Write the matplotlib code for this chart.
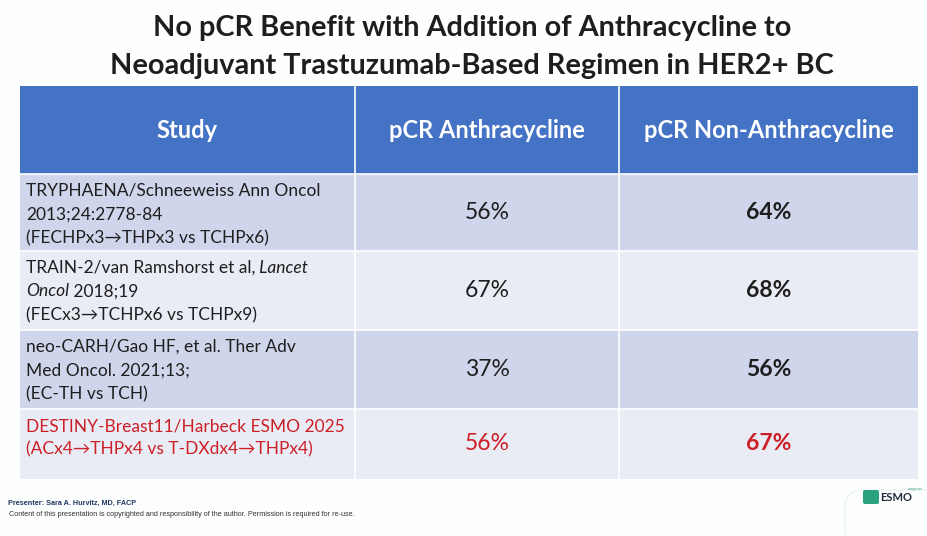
import matplotlib
matplotlib.use("Agg")
import matplotlib.pyplot as plt
from matplotlib.patches import Rectangle, FancyBboxPatch

plt.rcParams['font.family'] = ['Lato', 'DejaVu Sans']

# ---- data ----
title_lines = ["No pCR Benefit with Addition of Anthracycline to",
               "Neoadjuvant Trastuzumab-Based Regimen in HER2+ BC"]
headers = ["Study", "pCR Anthracycline", "pCR Non-Anthracycline"]
# each line is a list of segments; segments wrapped in * are italic
studies = [
    [["TRYPHAENA/Schneeweiss Ann Oncol"], ["2013;24:2778-84"],
     ["(FECHPx3\u2192THPx3 vs TCHPx6)"]],
    [["TRAIN-2/van Ramshorst et al,", "* Lancet*"], ["*Oncol*", " 2018;19"],
     ["(FECx3\u2192TCHPx6 vs TCHPx9)"]],
    [["neo-CARH/Gao HF, et al. Ther Adv"], ["Med Oncol. 2021;13;"],
     ["(EC-TH vs TCH)"]],
    [["DESTINY-Breast11/Harbeck ESMO 2025"],
     ["(ACx4\u2192THPx4 vs T-DXdx4\u2192THPx4)"]],
]
pcr_anthra = [56, 67, 37, 56]
pcr_non_anthra = [64, 68, 56, 67]
highlight = [False, False, False, True]
presenter = "Presenter: Sara A. Hurvitz, MD, FACP"
disclaimer = ("Content of this presentation is copyrighted and responsibility "
              "of the author. Permission is required for re-use.")

# ---- layout ----
W, H = 928, 536
col_x = [20, 355, 619, 918]
row_y = [86, 174, 251, 330, 409, 479]
HEAD = "#4472C4"
ROW_A, ROW_B = "#CFD5EA", "#E9EBF5"
RED = "#CC1F26"
DARK = "#1E1E1E"

fig = plt.figure(figsize=(W / 100, H / 100), dpi=100)
fig.patch.set_facecolor("#FDFEFE")
ax = fig.add_axes([0, 0, 1, 1])
ax.set_xlim(0, W)
ax.set_ylim(H, 0)
ax.axis("off")
renderer = fig.canvas.get_renderer()

for i, line in enumerate(title_lines):
    ax.text(472, 28 + i * 38, line, ha="center", va="center",
            fontsize=20.8, fontweight="bold", color=DARK)

# header
ax.add_patch(Rectangle((col_x[0], row_y[0]), col_x[-1] - col_x[0],
                       row_y[1] - row_y[0], color=HEAD, lw=0))
for j, h in enumerate(headers):
    ax.text((col_x[j] + col_x[j + 1]) / 2, 131, h, ha="center", va="center",
            fontsize=17, fontweight="bold", color="white")

# body rows
for r in range(len(studies)):
    y0, y1 = row_y[r + 1], row_y[r + 2]
    ax.add_patch(Rectangle((col_x[0], y0), col_x[-1] - col_x[0], y1 - y0,
                           color=ROW_A if r % 2 == 0 else ROW_B, lw=0))
    color = RED if highlight[r] else DARK
    for k, line in enumerate(studies[r]):
        x = 26
        y = y0 + 17 + k * 23.5
        for seg in line:
            italic = seg.startswith("*") or seg.startswith(" *")
            txt = seg.replace("*", "")
            t = ax.text(x, y, txt, ha="left", va="center", fontsize=12.5,
                        color=color, style="italic" if italic else "normal")
            x = t.get_window_extent(renderer).x1
    ym = (y0 + y1) / 2
    ax.text((col_x[1] + col_x[2]) / 2, ym, f"{pcr_anthra[r]}%", ha="center",
            va="center", fontsize=16.5, color=color)
    ax.text((col_x[2] + col_x[3]) / 2, ym, f"{pcr_non_anthra[r]}%", ha="center",
            va="center", fontsize=16.5, fontweight="bold", color=color)

# white cell borders
for yy in row_y[1:-1]:
    ax.plot([col_x[0], col_x[-1]], [yy, yy], color="white", lw=1.2)
for xx in col_x[1:-1]:
    ax.plot([xx, xx], [row_y[0], row_y[-1]], color="white", lw=1.2)

# footer
ax.text(8, 503, presenter, ha="left", va="center", fontsize=5.2,
        fontweight="bold", color="#1F3864", family="Liberation Sans")
ax.text(9, 515, disclaimer, ha="left", va="center", fontsize=5.2,
        color="#333333", family="Liberation Sans")

# ESMO logo
ax.add_patch(FancyBboxPatch((845, 490), 100, 60, boxstyle="round,pad=0,rounding_size=18",
                            fc="none", ec="#EEF2F2", lw=1))
ax.add_patch(FancyBboxPatch((863, 490), 16, 14, boxstyle="round,pad=0,rounding_size=2",
                            fc="#2BA27F", ec="none"))
ax.text(880, 497.5, "ESMO", ha="left", va="center", fontsize=8,
        fontweight="bold", color="#1C2A3A")
ax.text(908, 489, "congress", ha="left", va="center", fontsize=2.8,
        color="#3A9A8A")

fig.savefig("out.png", dpi=100, facecolor=fig.get_facecolor())
